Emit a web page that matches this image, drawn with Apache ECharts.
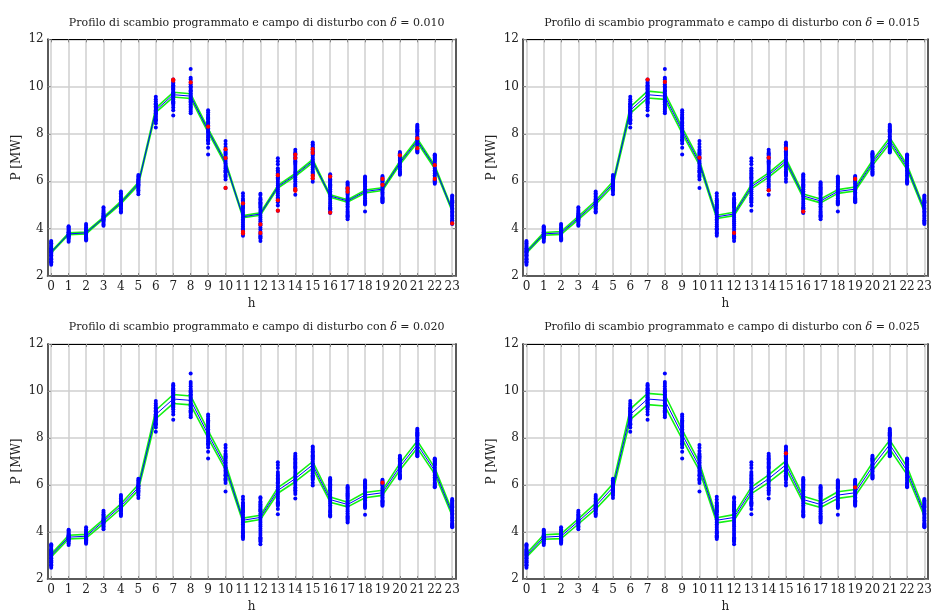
<!DOCTYPE html>
<html>
<head>
<meta charset="utf-8">
<script src="https://cdn.jsdelivr.net/npm/echarts@6/dist/echarts.min.js"></script>
<style>
  html, body { margin: 0; padding: 0; background: #ffffff; }
  #chart { width: 935px; height: 614px; }
</style>
</head>
<body>
<div id="chart"></div>
<script>
// Hours of the day (x categories / tick labels)
const hours = [0, 1, 2, 3, 4, 5, 6, 7, 8, 9, 10, 11, 12, 13, 14, 15, 16, 17, 18, 19, 20, 21, 22, 23];
const yTicks = [2, 4, 6, 8, 10, 12];

// Scheduled exchange profile [MW]
const profile = [3.00, 3.78, 3.82, 4.45, 5.10, 5.90, 9.00, 9.66, 9.60, 8.15, 6.78, 4.50,
                 4.62, 5.77, 6.27, 6.86, 5.38, 5.17, 5.57, 5.67, 6.78, 7.72, 6.60, 4.78];

// Disturbance field bounds for each delta
const deltas = ['0.010', '0.015', '0.020', '0.025'];
const upper010 = [3.03, 3.82, 3.86, 4.49, 5.15, 5.96, 9.09, 9.76, 9.70, 8.23, 6.85, 4.55, 4.67, 5.83, 6.33, 6.93, 5.43, 5.22, 5.63, 5.73, 6.85, 7.80, 6.67, 4.83];
const lower010 = [2.97, 3.74, 3.78, 4.41, 5.05, 5.84, 8.91, 9.56, 9.50, 8.07, 6.71, 4.46, 4.57, 5.71, 6.21, 6.79, 5.33, 5.12, 5.51, 5.61, 6.71, 7.64, 6.53, 4.73];
const upper015 = [3.05, 3.84, 3.88, 4.52, 5.18, 5.99, 9.14, 9.81, 9.74, 8.27, 6.88, 4.57, 4.69, 5.86, 6.36, 6.96, 5.46, 5.25, 5.65, 5.76, 6.88, 7.84, 6.70, 4.85];
const lower015 = [2.96, 3.72, 3.76, 4.38, 5.02, 5.81, 8.87, 9.52, 9.46, 8.03, 6.68, 4.43, 4.55, 5.68, 6.18, 6.76, 5.30, 5.09, 5.49, 5.59, 6.68, 7.60, 6.50, 4.71];
const upper020 = [3.06, 3.86, 3.90, 4.54, 5.20, 6.02, 9.18, 9.85, 9.79, 8.31, 6.92, 4.59, 4.71, 5.89, 6.40, 7.00, 5.49, 5.27, 5.68, 5.78, 6.92, 7.87, 6.73, 4.88];
const lower020 = [2.94, 3.70, 3.74, 4.36, 5.00, 5.78, 8.82, 9.47, 9.41, 7.99, 6.64, 4.41, 4.53, 5.65, 6.14, 6.72, 5.27, 5.07, 5.46, 5.56, 6.64, 7.57, 6.47, 4.68];
const upper025 = [3.08, 3.88, 3.92, 4.56, 5.23, 6.05, 9.23, 9.90, 9.84, 8.35, 6.95, 4.61, 4.74, 5.91, 6.43, 7.03, 5.52, 5.30, 5.71, 5.81, 6.95, 7.91, 6.77, 4.90];
const lower025 = [2.93, 3.69, 3.72, 4.34, 4.97, 5.75, 8.78, 9.42, 9.36, 7.95, 6.61, 4.39, 4.50, 5.63, 6.11, 6.69, 5.25, 5.04, 5.43, 5.53, 6.61, 7.53, 6.44, 4.66];

// Sampled exchange values for each hour [MW]
const samples = [
  [2.48, 2.55, 2.62, 2.68, 2.74, 2.80, 2.85, 2.90, 2.95, 3.00, 3.04, 3.08, 3.12, 3.17, 3.22, 3.27, 3.32, 3.38, 3.44, 3.48, 2.58, 2.71, 2.88, 3.02, 3.15],
  [3.45, 3.52, 3.58, 3.62, 3.66, 3.70, 3.73, 3.76, 3.79, 3.82, 3.85, 3.88, 3.92, 3.96, 4.01, 4.06, 4.10, 3.68, 3.75, 3.84],
  [3.50, 3.55, 3.60, 3.65, 3.69, 3.73, 3.77, 3.80, 3.84, 3.87, 3.91, 3.95, 4.00, 4.05, 4.12, 4.20, 3.63, 3.82, 3.90],
  [4.12, 4.18, 4.24, 4.30, 4.35, 4.40, 4.44, 4.48, 4.52, 4.56, 4.60, 4.65, 4.70, 4.76, 4.83, 4.90, 4.38, 4.50],
  [4.68, 4.74, 4.80, 4.86, 4.92, 4.97, 5.02, 5.06, 5.10, 5.14, 5.19, 5.24, 5.30, 5.36, 5.43, 5.50, 5.57, 5.00, 5.12],
  [5.45, 5.55, 5.62, 5.68, 5.73, 5.78, 5.83, 5.87, 5.91, 5.95, 5.99, 6.04, 6.09, 6.14, 6.20, 6.27, 5.85, 5.97],
  [8.27, 8.45, 8.55, 8.62, 8.68, 8.74, 8.80, 8.86, 8.91, 8.96, 9.01, 9.06, 9.11, 9.17, 9.23, 9.30, 9.38, 9.47, 9.57, 8.85, 9.00, 8.58, 9.14, 9.26],
  [8.78, 9.00, 9.12, 9.22, 9.30, 9.38, 9.45, 9.52, 9.58, 9.64, 9.70, 9.76, 9.82, 9.88, 9.94, 10.00, 10.06, 10.12, 10.18, 10.25, 10.30, 9.60, 9.72, 9.34, 9.48, 9.91, 10.03],
  [8.88, 8.95, 9.02, 9.10, 9.18, 9.26, 9.33, 9.40, 9.47, 9.54, 9.60, 9.66, 9.72, 9.79, 9.86, 9.94, 10.02, 10.10, 10.20, 10.30, 10.38, 10.75, 9.14, 9.37, 9.83, 9.98],
  [7.13, 7.42, 7.60, 7.70, 7.78, 7.86, 7.93, 8.00, 8.06, 8.12, 8.18, 8.24, 8.30, 8.37, 8.44, 8.52, 8.60, 8.70, 8.82, 8.92, 9.00, 7.74, 8.48, 8.65, 8.76],
  [5.72, 6.08, 6.18, 6.28, 6.38, 6.47, 6.55, 6.62, 6.69, 6.76, 6.83, 6.90, 6.97, 7.04, 7.12, 7.22, 7.33, 7.45, 7.58, 7.70, 6.23, 6.42, 7.17, 7.28],
  [3.70, 3.78, 3.86, 3.94, 4.02, 4.10, 4.18, 4.26, 4.33, 4.40, 4.47, 4.54, 4.61, 4.68, 4.76, 4.84, 4.93, 5.03, 5.14, 5.26, 5.38, 5.50, 3.82, 3.98, 4.88, 4.98, 5.09, 5.20],
  [3.48, 3.58, 3.68, 3.78, 3.87, 3.96, 4.05, 4.14, 4.23, 4.31, 4.39, 4.47, 4.55, 4.63, 4.71, 4.79, 4.88, 4.97, 5.07, 5.18, 5.30, 5.42, 5.48, 3.63, 3.73, 4.92, 5.02, 5.12, 5.24],
  [4.76, 4.98, 5.12, 5.22, 5.32, 5.41, 5.50, 5.58, 5.66, 5.74, 5.82, 5.90, 5.98, 6.07, 6.17, 6.28, 6.40, 6.55, 6.72, 6.85, 6.97, 5.17, 5.27, 6.12, 6.22, 6.34, 6.47],
  [5.43, 5.62, 5.78, 5.90, 6.00, 6.08, 6.16, 6.23, 6.30, 6.37, 6.44, 6.52, 6.60, 6.69, 6.79, 6.90, 7.02, 7.13, 7.24, 7.33, 5.70, 5.84, 6.74, 6.85, 6.96, 7.08, 7.19],
  [5.98, 6.10, 6.22, 6.32, 6.42, 6.50, 6.58, 6.65, 6.72, 6.79, 6.86, 6.93, 7.00, 7.08, 7.17, 7.27, 7.38, 7.50, 7.64, 6.27, 6.37, 7.12, 7.22, 7.32, 7.44, 7.57],
  [4.66, 4.74, 4.82, 4.90, 4.98, 5.06, 5.14, 5.22, 5.30, 5.37, 5.44, 5.51, 5.58, 5.66, 5.74, 5.83, 5.93, 6.03, 6.14, 6.24, 6.30, 4.70, 4.86, 5.78, 5.88, 5.98, 6.09, 6.19],
  [4.40, 4.52, 4.62, 4.72, 4.80, 4.88, 4.95, 5.02, 5.08, 5.14, 5.20, 5.27, 5.34, 5.42, 5.51, 5.60, 5.70, 5.80, 5.90, 5.96, 4.47, 4.57, 4.67, 5.46, 5.55, 5.65, 5.75, 5.85],
  [4.73, 5.02, 5.12, 5.20, 5.28, 5.35, 5.42, 5.48, 5.54, 5.60, 5.66, 5.72, 5.79, 5.86, 5.94, 6.02, 6.11, 6.20, 5.07, 5.16, 5.90, 5.98, 6.06, 6.15],
  [5.12, 5.20, 5.28, 5.35, 5.42, 5.48, 5.54, 5.60, 5.66, 5.72, 5.78, 5.85, 5.92, 5.99, 6.06, 6.14, 6.22, 5.16, 5.24, 5.31, 6.02, 6.10, 6.18],
  [6.28, 6.36, 6.44, 6.51, 6.58, 6.64, 6.70, 6.76, 6.82, 6.88, 6.94, 7.00, 7.07, 7.14, 7.24, 6.32, 6.40, 7.04, 7.11, 7.19],
  [7.22, 7.30, 7.38, 7.46, 7.53, 7.60, 7.66, 7.72, 7.78, 7.84, 7.90, 7.97, 8.04, 8.12, 8.20, 8.30, 8.39, 7.26, 7.34, 8.08, 8.16, 8.25, 8.34],
  [5.90, 6.00, 6.10, 6.18, 6.26, 6.33, 6.40, 6.47, 6.54, 6.61, 6.68, 6.75, 6.83, 6.91, 7.00, 7.07, 7.13, 5.95, 6.05, 6.87, 6.95, 7.03, 7.10],
  [4.20, 4.28, 4.36, 4.43, 4.50, 4.56, 4.62, 4.68, 4.74, 4.80, 4.86, 4.92, 4.98, 5.05, 5.12, 5.20, 5.30, 5.40, 4.24, 4.32, 5.09, 5.16, 5.25, 5.35]
];

// Samples flagged in red for each delta: [hour, MW]
const flagged010 = [[7, 10.30], [7, 10.25], [8, 10.18], [9, 8.31], [10, 7.36], [10, 6.98], [10, 5.72],
  [11, 5.07], [11, 3.87], [11, 3.80], [12, 4.18], [12, 3.82], [13, 6.26], [13, 5.20], [13, 4.76],
  [14, 7.13], [14, 6.98], [14, 5.67], [14, 5.60], [15, 7.36], [15, 7.20], [15, 6.24], [15, 6.13],
  [16, 6.20], [16, 4.68], [17, 5.70], [17, 5.56], [19, 6.10], [19, 5.85], [20, 7.10], [21, 7.82],
  [21, 7.40], [22, 6.68], [22, 6.10], [23, 4.22]];
const flagged015 = [[7, 10.30], [8, 10.20], [10, 7.00], [12, 3.82], [14, 7.00], [14, 5.62],
  [15, 7.38], [16, 4.72], [19, 6.10]];
const flagged020 = [[19, 6.10]];
const flagged025 = [[15, 7.35], [19, 5.90]];

const uppers = [upper010, upper015, upper020, upper025];
const lowers = [lower010, lower015, lower020, lower025];
const flagged = [flagged010, flagged015, flagged020, flagged025];

// Panel placement (2 x 2)
const panels = [
  { left: 47.7, top: 39.3 },
  { left: 523.0, top: 39.3 },
  { left: 47.7, top: 344.0 },
  { left: 523.0, top: 344.0 }
];
const PW = 408, PH = 236.7;

const serif = '"DejaVu Serif", "Liberation Serif", serif';
const gridColor = '#cfcfcf';
const frameColor = '#5a5a5a';

const scatterPts = [];
samples.forEach((vals, i) => vals.forEach(v => scatterPts.push([hours[i], v])));
const pair = arr => arr.map((v, i) => [hours[i], v]);

const option = {
  animation: false,
  backgroundColor: '#ffffff',
  title: [],
  grid: [],
  xAxis: [],
  yAxis: [],
  series: []
};

panels.forEach((p, k) => {
  option.grid.push({ left: p.left, top: p.top, width: PW, height: PH, containLabel: false });
  option.title.push({
    text: '{a|Profilo di scambio programmato e campo di disturbo con }{i|δ}{a| = ' + deltas[k] + '}',
    left: p.left + PW / 2,
    top: p.top - 27,
    textAlign: 'center',
    textStyle: {
      fontWeight: 'normal',
      rich: {
        a: { fontFamily: serif, fontSize: 11, fontWeight: 'normal', color: '#222' },
        i: { fontFamily: serif, fontSize: 11, fontWeight: 'normal', fontStyle: 'italic', color: '#222' }
      }
    }
  });
  // bottom x axis
  option.xAxis.push({
    type: 'value', gridIndex: k, min: -0.2, max: 23.2, position: 'bottom',
    name: 'h', nameLocation: 'middle', nameGap: 22,
    nameTextStyle: { fontFamily: serif, fontSize: 12, color: '#222' },
    axisLine: { show: true, onZero: false, lineStyle: { color: frameColor, width: 2 } },
    axisTick: { show: true, inside: true, length: 3, customValues: hours, lineStyle: { color: '#888', width: 1 } },
    axisLabel: { show: true, customValues: hours, margin: 5, fontFamily: serif, fontSize: 12, color: '#222' },
    splitLine: { show: true, lineStyle: { color: gridColor, width: 1.5 } }
  });
  // top frame
  option.xAxis.push({
    type: 'value', gridIndex: k, min: -0.2, max: 23.2, position: 'top',
    axisLine: { show: true, onZero: false, lineStyle: { color: '#000', width: 1.2 } },
    axisTick: { show: true, inside: true, length: 3, customValues: hours, lineStyle: { color: '#888', width: 1 } },
    axisLabel: { show: false },
    splitLine: { show: false }
  });
  // left y axis
  option.yAxis.push({
    type: 'value', gridIndex: k, min: 2, max: 12, interval: 2, position: 'left',
    name: 'P [MW]', nameLocation: 'middle', nameGap: 25, nameRotate: 90,
    nameTextStyle: { fontFamily: serif, fontSize: 12, color: '#222' },
    axisLine: { show: true, onZero: false, lineStyle: { color: frameColor, width: 2 } },
    axisTick: { show: true, inside: true, length: 3, lineStyle: { color: '#888', width: 1 } },
    axisLabel: { show: true, margin: 4, fontFamily: serif, fontSize: 12, color: '#222' },
    splitLine: { show: true, lineStyle: { color: gridColor, width: 1.5 } }
  });
  // right frame
  option.yAxis.push({
    type: 'value', gridIndex: k, min: 2, max: 12, interval: 2, position: 'right',
    axisLine: { show: true, onZero: false, lineStyle: { color: frameColor, width: 2 } },
    axisTick: { show: true, inside: true, length: 3, lineStyle: { color: '#888', width: 1 } },
    axisLabel: { show: false },
    splitLine: { show: false }
  });

  const xi = 2 * k, yi = 2 * k;
  const lineBase = { type: 'line', xAxisIndex: xi, yAxisIndex: yi, symbol: 'none', silent: true, z: 2 };
  option.series.push(Object.assign({}, lineBase, {
    data: pair(uppers[k]), lineStyle: { color: '#14f014', width: 1.6 }
  }));
  option.series.push(Object.assign({}, lineBase, {
    data: pair(lowers[k]), lineStyle: { color: '#14f014', width: 1.6 }
  }));
  option.series.push(Object.assign({}, lineBase, {
    data: pair(profile), lineStyle: { color: '#0000ff', width: 1 }, z: 3
  }));
  option.series.push({
    type: 'scatter', xAxisIndex: xi, yAxisIndex: yi, data: scatterPts,
    symbol: 'circle', symbolSize: 4, silent: true, z: 4,
    itemStyle: { color: '#0000ff', opacity: 1 }
  });
  option.series.push({
    type: 'scatter', xAxisIndex: xi, yAxisIndex: yi, data: flagged[k],
    symbol: 'circle', symbolSize: 4.2, silent: true, z: 5,
    itemStyle: { color: '#ff0000', opacity: 1 }
  });
});

const chart = echarts.init(document.getElementById('chart'), null, { renderer: 'canvas' });
chart.setOption(option);
</script>
</body>
</html>
